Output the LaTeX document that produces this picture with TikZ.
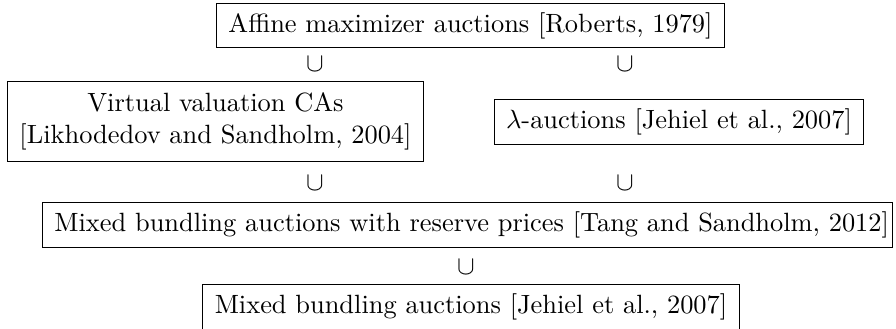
\documentclass[tikz,border=0pt]{standalone}
\begin{document}
\begin{tikzpicture}[x=0.37879pt,y=-0.37879pt,
  box/.style={draw,line width=0.4pt,inner xsep=4.5pt,inner ysep=3.5pt},
  subset/.style={inner sep=0pt}]
\useasboundingbox (0,0) rectangle (896,329);
\node[box] (am) at (470.5,25.5) {Affine maximizer auctions [Roberts, 1979]};
\node[subset] (c1) at (315,64) {$\cup$};
\node[subset] (c2) at (625,64) {$\cup$};
\node[box,align=center,inner ysep=4.3pt] (vv) at (215.5,121.5) {Virtual valuation CAs\\{}[Likhodedov and Sandholm, 2004]};
\node[box] (la) at (679,122) {$\lambda$-auctions [Jehiel et al., 2007]};
\node[subset] (c3) at (315,183) {$\cup$};
\node[subset] (c4) at (625,183) {$\cup$};
\node[box,anchor=west] (mr) at (42,225) {Mixed bundling auctions with reserve prices [Tang and Sandholm, 2012]\kern-3.2pt};
\node[subset] (c5) at (466,267) {$\cup$};
\node[box] (mb) at (471,307) {Mixed bundling auctions [Jehiel et al., 2007]};
\end{tikzpicture}
\end{document}
